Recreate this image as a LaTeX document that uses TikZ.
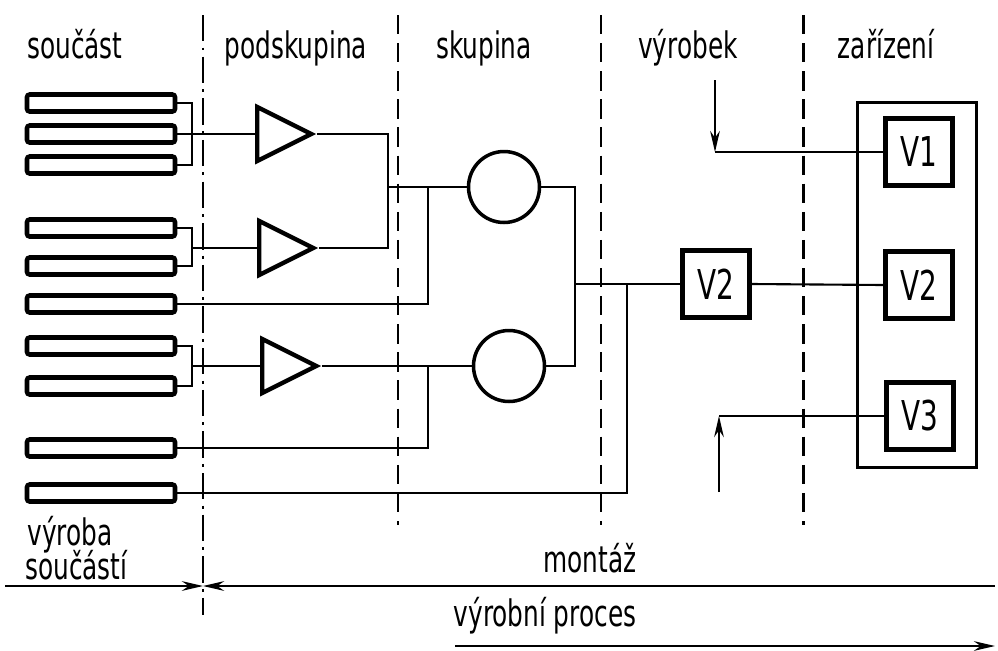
\documentclass[tikz,border=0pt]{standalone}
\usepackage{fontspec}
\setmainfont{DejaVu Sans Condensed}
\usepackage{tikz}
\usetikzlibrary{arrows.meta, positioning, shapes.geometric}
\newcommand{\tall}[1]{\scalebox{0.98}[1.3]{#1}}

\begin{document}
\begin{tikzpicture}[x=0.02cm, y=-0.02cm,
  rod/.style={rectangle, rounded corners=1.5pt, draw, line width=2.6pt, minimum width=2.96cm, minimum height=0.34cm, inner sep=0pt},
  tri/.style={isosceles triangle, isosceles triangle stretches, draw, line width=2.5pt, minimum width=1.08cm, minimum height=1.08cm, inner sep=0pt, anchor=west},
  circ/.style={circle, draw, line width=2pt, minimum size=1.42cm, inner sep=0pt},
  vbox/.style={rectangle, draw, line width=2.3pt, minimum size=1.34cm, inner sep=0pt, font=\fontsize{18}{20}\selectfont},
  frame/.style={rectangle, draw, line width=2pt, minimum width=2.38cm, minimum height=7.3cm, inner sep=0pt},
  ln/.style={line width=1.2pt},
  arr/.style={line width=1.2pt, -{Stealth[length=12pt, width=5.5pt]}},
  divdash/.style={line width=1.7pt, dash pattern=on 11pt off 5pt},
  divdot/.style={line width=1.7pt, dash pattern=on 15pt off 3.5pt on 1.7pt off 3.5pt},
  lbl/.style={font=\fontsize{16}{17}\selectfont, inner sep=0pt, anchor=base}
]
\useasboundingbox (0,0) rectangle (998,650);

% casti
\node[rod] (r1) at (101,103) {};
\node[rod] (r2) at (101,134) {};
\node[rod] (r3) at (101,165) {};
\node[rod] (r4) at (101,228) {};
\node[rod] (r5) at (101,266) {};
\node[rod] (r6) at (101,304) {};
\node[rod] (r7) at (101,346) {};
\node[rod] (r8) at (101,386) {};
\node[rod] (r9) at (101,448) {};
\node[rod] (r10) at (101,493) {};

% podskupiny, skupiny
\node[tri] (t1) at (255,134) {};
\node[tri] (t2) at (257,248) {};
\node[tri] (t3) at (260,366) {};
\node[circ] (c1) at (504,187) {};
\node[circ] (c2) at (509,366) {};

% vyrobek, zarizeni
\node[vbox] (w2) at (716,284) {\tall{V2}};
\node[frame] (zar) at (917,285) {};
\node[vbox] (v1) at (919,152) {\tall{V1}};
\node[vbox] (v2) at (919,285) {\tall{V2}};
\node[vbox] (v3) at (920,416) {\tall{V3}};

\coordinate (b1) at (192,134);
\coordinate (b2) at (192,248);
\coordinate (b3) at (192,366);
\coordinate (j1) at (388,187);
\coordinate (j2) at (428,187);
\coordinate (j3) at (428,366);
\coordinate (j4) at (575,284);
\coordinate (j5) at (627,284);
\coordinate (in1) at (715,80);
\coordinate (k1) at (715,152);
\coordinate (in3) at (719,492);
\coordinate (k3) at (719,416);

\draw[ln] (r1.east) -| (b1) |- (r3.east);
\draw[ln] (r2.east) -- (t1.west);
\draw[ln] (r4.east) -| (b2) |- (r5.east);
\draw[ln] (b2) -- (t2.west);
\draw[ln] (r7.east) -| (b3) |- (r8.east);
\draw[ln] (b3) -- (t3.west);
\draw[ln] (t1.apex) -| (j1) |- (t2.apex);
\draw[ln] (j1) -- (c1.west);
\draw[ln] (r6.east) -| (j2);
\draw[ln] (t3.apex) -- (c2.west);
\draw[ln] (r9.east) -| (j3);
\draw[ln] (c1.east) -| (j4) |- (c2.east);
\draw[ln] (j4) -- (w2.west);
\draw[ln] (r10.east) -| (j5);
\draw[ln] (w2.east) -- (v2.west);
\draw[arr] (in1) -- (k1);
\draw[ln] (k1) -- (v1.west);
\draw[arr] (in3) -- (k3);
\draw[ln] (k3) -- (v3.west);

% deleni
\draw[divdot] (203,15) -- (203,615);
\draw[divdash] (398,15) -- (398,525);
\draw[divdash] (601,15) -- (601,525);
\draw[divdash] (803,15) -- (803,525);

% popisy
\node[lbl] (hsou) at (75,58) {\tall{součást}};
\node[lbl] (hpod) at (296,58) {\tall{podskupina}};
\node[lbl] (hsku) at (484,58) {\tall{skupina}};
\node[lbl] (hvyr) at (688,58) {\tall{výrobek}};
\node[lbl] (hzar) at (886,58) {\tall{zařízení}};
\node[lbl, anchor=base west] (vyr1) at (27,545) {\tall{výroba}};
\node[lbl, anchor=base west] (vyr2) at (25,579) {\tall{součástí}};
\node[lbl] (mon) at (590,572) {\tall{montáž}};
\node[lbl] (proc) at (545,626) {\tall{výrobní proces}};

\coordinate (a0) at (5,586);
\coordinate (a1) at (203,586);
\coordinate (a2) at (995,586);
\coordinate (p0) at (455,646);
\coordinate (p1) at (995,646);
\draw[arr] (a0) -- (a1);
\draw[arr, {Stealth[length=12pt, width=5.5pt]}-] (a1) -- (a2);
\draw[arr] (p0) -- (p1);
\end{tikzpicture}
\end{document}
